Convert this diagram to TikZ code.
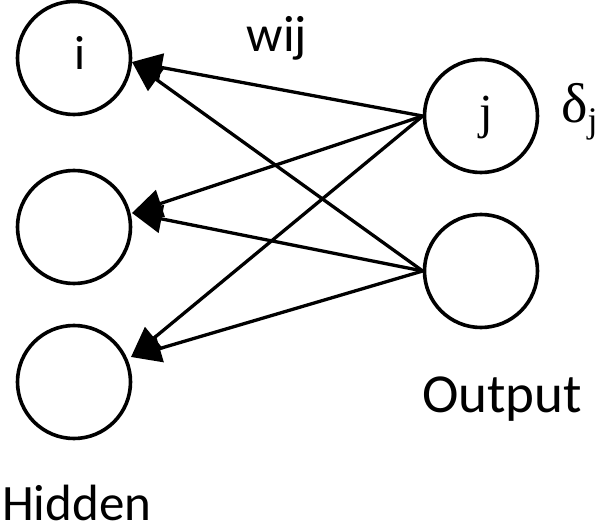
\documentclass[tikz,border=0pt]{standalone}
\usepackage{fontspec}
\setmainfont{Carlito}
\newfontfamily\seriffam{Liberation Serif}
\usetikzlibrary{arrows.meta}
\begin{document}
\begin{tikzpicture}[x=1bp,y=-1bp,
  neuron/.style={circle,draw,line width=3.6bp,minimum size=113bp,inner sep=0pt},
  conn/.style={line width=3.3bp,-{Triangle[length=30bp,width=28bp]}},
  lbl/.style={inner sep=0pt,font=\fontsize{51bp}{60bp}\selectfont},
  ser/.style={inner sep=0pt,font=\fontsize{49bp}{58bp}\selectfont\seriffam}]
\useasboundingbox (0,0) rectangle (600,527);
\node[neuron] (h1) at (74,58) {};
\node[neuron] (h2) at (74,227) {};
\node[neuron] (h3) at (74,382) {};
\node[neuron] (o1) at (481,116) {};
\node[neuron] (o2) at (481,271) {};
\node[lbl,font=\fontsize{48bp}{56bp}\selectfont] (ti) at (80,53) {i};
\node[ser,anchor=base] (tj) at (486,129) {j};
\node[lbl,anchor=base] (w) at (277,52) {wij};
\node[ser,anchor=base west,font=\fontsize{56bp}{64bp}\selectfont\seriffam] (d) at (561,123) {δ\raisebox{-10bp}{\fontsize{36bp}{40bp}\selectfont j}};
\node[lbl,anchor=base west] (hid) at (2,520) {Hidden};
\node[lbl,anchor=base west,font=\fontsize{55bp}{64bp}\selectfont] (out) at (422,412) {Output};
\coordinate (t1) at (132,62);
\coordinate (t2) at (132,213);
\coordinate (t3) at (131,357);
\draw[conn] (o1.west) -- (t1);
\draw[conn] (o1.west) -- (t2);
\draw[conn] (o1.west) -- (t3);
\draw[conn] (o2.west) -- (t1);
\draw[conn] (o2.west) -- (t2);
\draw[conn] (o2.west) -- (t3);
\end{tikzpicture}
\end{document}
